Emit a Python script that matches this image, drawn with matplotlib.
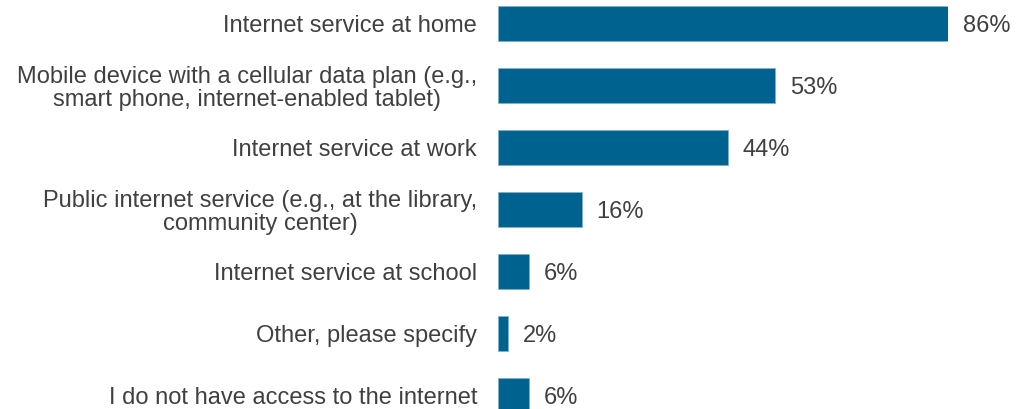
import matplotlib.pyplot as plt

categories = [
    'Internet service at home',
    'Mobile device with a cellular data plan (e.g.,\nsmart phone, internet-enabled tablet)',
    'Internet service at work',
    'Public internet service (e.g., at the library,\ncommunity center)',
    'Internet service at school',
    'Other, please specify',
    'I do not have access to the internet',
]
values = [86, 53, 44, 16, 6, 2, 6]

bar_color = '#00638f'
text_color = '#404040'

plt.rcParams['font.family'] = ['Liberation Sans', 'DejaVu Sans']

fig = plt.figure(figsize=(10.19, 4.10), dpi=100)
ax = fig.add_axes([498 / 1019, 0, 450 / 1019, 1])

pos = list(range(len(categories)))
ax.barh(pos, values, height=0.565, color=bar_color, edgecolor='#7fb0c8', linewidth=0.6)

ax.set_xlim(0, 86)
ax.set_ylim(6.218, -0.395)

# nudge text a little below the bar centre so the glyphs sit level with the bars
dy = 0.03
for y, v in zip(pos, values):
    ax.text(v + 2.8, y + dy, f'{v}%', va='center', ha='left', fontsize=17, color=text_color)

for y, label in zip(pos, categories):
    ax.text(-4.0, y + dy, label, va='center', ha='right', multialignment='center',
            fontsize=17, color=text_color, linespacing=1.08)

ax.set_xticks([])
ax.set_yticks([])
for s in ax.spines.values():
    s.set_visible(False)

fig.savefig('out.png', dpi=100)
